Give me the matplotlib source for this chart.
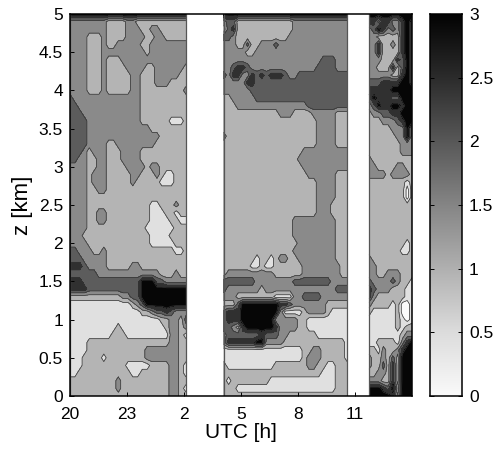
# contour map of a gridded quantity over UTC time and height, with two data gaps
import numpy as np
import matplotlib
matplotlib.use("Agg")
import matplotlib.pyplot as plt
from matplotlib.colors import LinearSegmentedColormap

plt.rcParams["font.family"] = ["Liberation Sans", "DejaVu Sans"]

#### values
# every digit is one grid cell: d means the band from d*0.5 to d*0.5+0.5, rows run from z=5 km down to z=0
rows_a = [
    "6666666666666666666666666",
    "3333333322223322222222222",
    "3333333322223332233222222",
    "3333222322223333223322222",
    "3333222322333332233333333",
    "3333222333333333233333333",
    "3333222322233333333333333",
    "3333222322223333223333332",
    "3333222322222332223333322",
    "3333222322222332223332222",
    "3333222322222332222222223",
    "4333333333333332222222222",
    "4433333333333332222222222",
    "4443333333333332222222222",
    "4444333333333332222221112",
    "4444333333333333322222222",
    "4444333333333333333222222",
    "4444333322333333332222222",
    "4443233322233332222222222",
    "4433223322233332222222222",
    "3333223322223333233222222",
    "3333233322222332223211222",
    "3333233322222322222111222",
    "3333223322222222222222222",
    "3333222222222222222222222",
    "3333222222222222211222322",
    "3333223322222222211122122",
    "3333223322222222211112211",
    "3333222222222222111111222",
    "3332222222222222211112222",
    "3333222222222222211111222",
    "4433322322222222222222112",
    "4443333322222222222222222",
    "5554333322222332222222222",
    "4444443333333333333222322",
    "5554444444444446664433333",
    "5555444444444446666666666",
    "2222222222233446666666666",
    "1111111111111234666666666",
    "1111111111111112234454333",
    "1111111111111111111223324",
    "1111111111211111111123323",
    "1111111112221111111113321",
    "1111222222222222222223322",
    "1111222222222222333333322",
    "1112222122222222333333322",
    "1112222222221111122223321",
    "1122222222222112222223321",
    "2222222222322222222223322",
    "2222222222322222222223321",
    "2222222222222222222223322",
]
rows_b = [
    "666666666666666666666666666",
    "344222222222222333333333333",
    "245222222222222333333333333",
    "443222222222223333333333333",
    "333224223334333333333333333",
    "333332233333333333333333333",
    "333333333333333333333444333",
    "334554333333333333334444333",
    "435533545455543344444444444",
    "333335544444444444444444444",
    "333333444444444444444444444",
    "223333344444444444444444444",
    "222333333333333333444444444",
    "222222222222333222233333222",
    "222222222222222222223333222",
    "222222222222222222223333222",
    "322222222222222222223333222",
    "222222222222222222223333222",
    "222222222222222223333333333",
    "222222222222222233333333333",
    "222222222222222223333333333",
    "222222222222222222333333222",
    "222222222222222222223333222",
    "222222222222222222223333222",
    "222222222222222222223333222",
    "222222222222222222223332222",
    "222222222222222222223332222",
    "222222222222222333333333222",
    "222222222222222333333333222",
    "222222222222222333333333222",
    "222222222222222233333333222",
    "222222222222222333333333222",
    "222222212212332233333333222",
    "222222112112222223333333322",
    "233333333332222223333333322",
    "444444433333333444444443333",
    "433333332333333333333333444",
    "333222222221111334444333333",
    "222466666666554333333322222",
    "455566666666311112333321111",
    "455566666663333322111111111",
    "443256666665333322111111111",
    "344444445444332222221111111",
    "355555566333322222222222221",
    "111111111111111112233222221",
    "111111111111111112333222221",
    "211111111112222222332211222",
    "222222222222222222222111222",
    "212222222211111111111111222",
    "222111111111111111111111222",
    "222222222222222222222222222",
]
rows_c = [
    "6666666666",
    "5535533565",
    "3465343565",
    "3322222565",
    "3352232565",
    "3352222565",
    "3332225465",
    "3322252465",
    "3333322565",
    "4445555665",
    "5555566666",
    "4655544666",
    "3465566566",
    "2334455666",
    "2223334566",
    "2222233363",
    "2222223363",
    "2222222333",
    "2222222333",
    "3222222222",
    "3322223322",
    "3333233332",
    "2222222212",
    "2222222202",
    "2222222202",
    "2222222222",
    "2222222222",
    "2222222222",
    "2222222222",
    "2222222222",
    "2222222212",
    "2222222112",
    "3222222222",
    "3322222222",
    "3322333222",
    "4333343221",
    "5433322211",
    "5322222211",
    "3222212001",
    "2111112001",
    "1111112101",
    "1111112122",
    "1111111233",
    "1122221356",
    "2213223566",
    "3223242666",
    "3224252666",
    "2233252666",
    "3332252666",
    "6665463666",
    "6666652666",
]

# hours after 20 UTC covered by each block of data
time_a = np.linspace(0.0, 6.1, 25)
time_b = np.linspace(8.1, 14.58, 27)
time_c = np.linspace(15.74, 18.0, 10)
height = np.linspace(5.0, 0.0, 51)

levels = [0, 0.5, 1, 1.5, 2, 2.5, 3, 4]
band_colors = ["#fafafa", "#e0e0e0", "#b4b4b4", "#8a8a8a", "#5c5c5c", "#303030", "#060606"]
bar_colors = ["#fafafa", "#dcdcdc", "#b0b0b0", "#858585", "#585858", "#2c2c2c", "#030303"]

x_ticks = [0, 3, 6, 9, 12, 15]
x_labels = ["20", "23", "2", "5", "8", "11"]
y_ticks = [0, 0.5, 1, 1.5, 2, 2.5, 3, 3.5, 4, 4.5, 5]
y_labels = ["0", "0.5", "1", "1.5", "2", "2.5", "3", "3.5", "4", "4.5", "5"]
bar_ticks = [0, 0.5, 1, 1.5, 2, 2.5, 3]
bar_labels = ["0", "0.5", "1", "1.5", "2", "2.5", "3"]


def to_values(rows):
    """digit strings -> band centres in a numpy array"""
    return np.array([[int(c) * 0.5 + 0.25 for c in r] for r in rows])


W, H = 494, 449
fig = plt.figure(figsize=(W / 100, H / 100), dpi=100)
ax = fig.add_axes([70 / W, (H - 396) / H, 342 / W, 382 / H])

for t, rows in [(time_a, rows_a), (time_b, rows_b), (time_c, rows_c)]:
    v = to_values(rows)
    ax.contourf(t, height, v, levels=levels, colors=band_colors)
    ax.contour(t, height, v, levels=levels[1:-1], colors="#333333", linewidths=0.5)
    # the blocks end in a plain grey edge next to the white gaps
    ax.plot([t[0], t[0]], [0, 5], color="#555555", lw=0.9)
    ax.plot([t[-1], t[-1]], [0, 5], color="#555555", lw=0.9)

ax.set_xlim(0, 18)
ax.set_ylim(0, 5)
ax.set_xticks(x_ticks)
ax.set_xticklabels(x_labels)
ax.set_yticks(y_ticks)
ax.set_yticklabels(y_labels)
ax.tick_params(direction="in", length=3, width=0.7, labelsize=12.5, pad=5)
ax.tick_params(axis="x", pad=8)
ax.set_xlabel("UTC [h]", fontsize=15, labelpad=1)
ax.set_ylabel("z [km]", fontsize=16, labelpad=4)
for s in ax.spines.values():
    s.set_linewidth(1.1)

# colour bar
cax = fig.add_axes([430 / W, (H - 396) / H, 32 / W, 382 / H])
cmap = LinearSegmentedColormap.from_list("bar", bar_colors)
cax.imshow(np.linspace(3, 0, 256).reshape(-1, 1), cmap=cmap, vmin=0, vmax=3,
           extent=[0, 1, 0, 3], aspect="auto")
cax.set_xticks([])
cax.yaxis.tick_right()
cax.set_yticks(bar_ticks)
cax.set_yticklabels(bar_labels)
cax.tick_params(direction="in", length=3, width=0.7, labelsize=12.5, pad=5, right=True, left=True)
for s in cax.spines.values():
    s.set_linewidth(1.1)

fig.savefig("out.png", dpi=100)
